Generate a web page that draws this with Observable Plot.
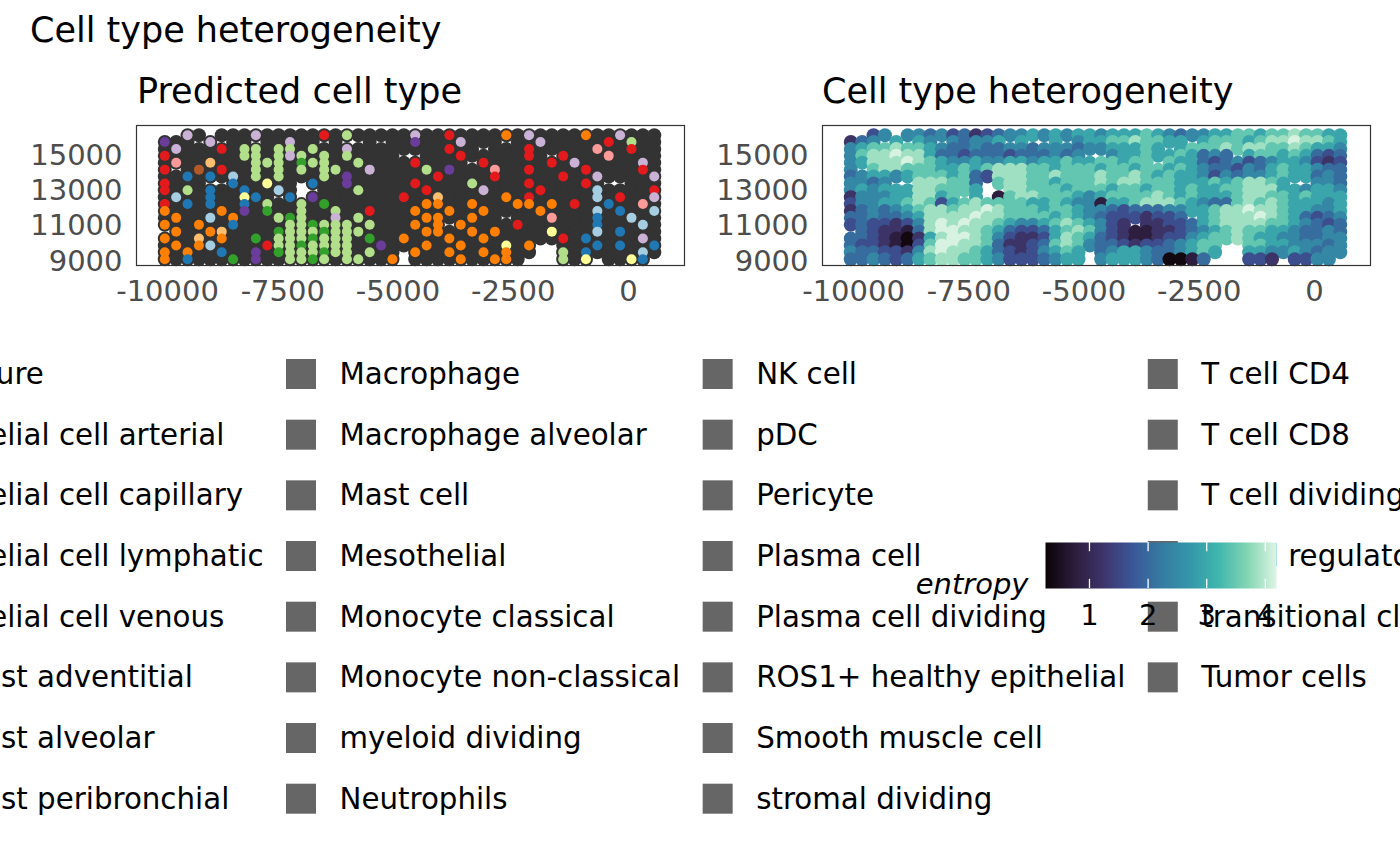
<!DOCTYPE html>
<html>
<head>
<meta charset="utf-8">
<script src="https://cdn.jsdelivr.net/npm/d3@7"></script>
<script src="https://cdn.jsdelivr.net/npm/@observablehq/plot@0.6"></script>
<style>
html, body { margin: 0; padding: 0; background: #ffffff; }
#root { position: relative; width: 1400px; height: 865px; overflow: hidden; font-family: "DejaVu Sans", sans-serif; background: #ffffff; }
#root svg { position: absolute; }
</style>
</head>
<body>
<div id="root"></div>
<script>
// ---------------- data ----------------
// grid of spot centres (data coordinates)
const xs = [-10060, -9813, -9566, -9319, -9072, -8825, -8578, -8331, -8084, -7837, -7590,
            -7343, -7096, -6849, -6602, -6355, -6108, -5861, -5614, -5367, -5120, -4873,
            -4626, -4379, -4132, -3885, -3638, -3391, -3144, -2897, -2650, -2403, -2156,
            -1909, -1662, -1415, -1168, -921, -674, -427, -180, 67, 314, 561];
const ys = [16150, 15760, 15370, 14980, 14590, 14200, 13810, 13420, 13030, 12640,
            12250, 11860, 11470, 11080, 10690, 10300, 9910, 9520, 9130];

// entropy level per spot (digit = index into entropyLevels, blank = no spot)
const entropyLevels = [0.35, 0.77, 1.19, 1.61, 2.03, 2.45, 2.95, 3.45, 3.85, 4.15];
const entropyRows = [
  "  35| 554|5342|3455|6565|6656|6676|5455|6677|6778|7766",
  "245 |6 65| 545|56 6|  6 |5667|7877|66 6|7776|7889|8876",
  "5677|8776|5445|4455|4555|4556|6676| 677|7878|8778|7665",
  "5788|9886|4434|4434|4454|5  5|6676|6764|54 6|7767|6434",
  "5688|8987|6556|5566|5667|6677|677 |7664|3453|4566|5323",
  "5 78|8777|6676|7888|7767|7767|7677|6765|4435|4676|6544",
  "4566|5677|7674|3888|7787|7787|7876|7665|3545|5676|6454",
  "5545|  88|8774| 788|7767|7787|8877|7666|7678|876 | 554",
  "5656|6688|7776|  88|7776|7776|7767|7676|6778|8866|5665",
  "2555|6688|67 6| 178|8777|6567|7778|7676|6678|8776|7666",
  "3556|6787|3678|7777|6676|5516|6788|8765|4478|7876|6656",
  "2454|5678|8788|9877|7677|6554|3444|5566|7889|8876|6556",
  "4454|4568|8889|8877|7767|6543|3323|34 6|7888|9876|4345",
  "3433|2358|9898|8765|5678|7653|2 22|3346|7888|8776|5434",
  " 432|2148|9988|7643|3467|8753|2112|2345|6787|7665|4454",
  "4432|1026|8998|7532|2368|7643|2112|3356|7787|6655|4455",
  "4332|1037|9988|7422|3478|7544|3233|4567|7  7|7665|5545",
  "5443|3258|9887|6432|3567|6 45|6654|4567|6  6|6556|5455",
  "4454|3467|8877|6533|3456|6 56|6654|0014|   3|32 3|355 "
];

// predicted cell type per spot (code letters, see typeCodes)
const typeRows = [
  "..l.|....|l...|..r.|g...|..l.|.r..|..o.|l...|.o..|l...",
  "p...|l...|...l|..k.|.r..|..p.|..l.|..r.|.l..|...r|.g..",
  ".l..|.r.g|g.gg|.g..|l...|....|.r..|....|r...|..k.|.r..",
  "r...|...g|g.gl|g.g.|g...|.l..|..r.|....|r..r|...k|....",
  ".k..|O...|ggg.|Ggg.|.g..|..r.|....|r...|..r.|l...|..l.",
  "r..w|.r..|g.g.|g.gg|..l.|...g|.p..|.k..|r...|.r..|..r.",
  "..b.|b.c.|g.g.|..g.|p...|....|r...|.r..|...r|..l.|...l",
  "r...|..b.|.y..|.b..|p...|..r.|...g|....|r...|.r..|....",
  "r.g.|b..b|..c.|....|.g..|...r|....|l...|.r..|..c.|...r",
  ".c..|b..y|b..b|.p..|....|.r..|O...|..o.|r...|..c.|r..l",
  "r.b.|b..b|.g..|g.G.|....|...o|o..o|...o|o.o.|r..b|..k.",
  "o...|.o.p|.G..|g..g|..r.|..o.|.o..|o...|.o..|..c.|b..c",
  ".o..|c.o.|..gG|g..l|.g..|...o|o..o|..g.|..k.|..b.|.c..",
  "o..o|..b.|...g|gGgg|g.g.|..o.|o.o.|...r|....|..b.|..c.",
  ".o..|oO..|..Gg|ggGg|gg..|...o|o..o|.o..|..y.|..c.|b...",
  "o..O|.o..|G.gg|gGgg|g.G.|.o..|.o..|o...|...r|.b..|..l.",
  ".o.o|c...|.rgg|Gggg|g..p|...o|..o.|..y.|o...|..b.|b..b",
  "o.o.|.b..|p.Gg|ggGg|g.g.|..o.|.o..|o.o.|...g|.b..|..c.",
  "o.b.|..G.|p..g|gGg.|gg..|o...|..o.|.oo.|...g|.y..|.yb."
];
const typeCodes = {
  ".": "Tumor cells", "g": "ROS1+ healthy epithelial", "G": "Fibroblast alveolar",
  "o": "Macrophage alveolar", "O": "Macrophage", "r": "T cell CD4", "k": "Plasma cell",
  "p": "Monocyte classical", "l": "T cell CD8", "b": "Endothelial cell capillary",
  "c": "Endothelial cell venous", "y": "Mast cell", "w": "Neutrophils"
};

// axes
const xTicks = [-10000, -7500, -5000, -2500, 0];
const yTicks = [9000, 11000, 13000, 15000];
const xDomain = [-10674, 1217];
const yDomain = [8774, 16698];
const entropyDomain = [0.25, 4.19];
const colorbarTicks = [1, 2, 3, 4];

// legend labels (column-major, 8 per column)
const legendLabels = [
  "DC mature", "Endothelial cell arterial", "Endothelial cell capillary", "Endothelial cell lymphatic",
  "Endothelial cell venous", "Fibroblast adventitial", "Fibroblast alveolar", "Fibroblast peribronchial",
  "Macrophage", "Macrophage alveolar", "Mast cell", "Mesothelial",
  "Monocyte classical", "Monocyte non-classical", "myeloid dividing", "Neutrophils",
  "NK cell", "pDC", "Pericyte", "Plasma cell",
  "Plasma cell dividing", "ROS1+ healthy epithelial", "Smooth muscle cell", "stromal dividing",
  "T cell CD4", "T cell CD8", "T cell dividing", "T cell regulatory",
  "transitional club/AT2", "Tumor cells"
];

// ---------------- styles ----------------
const typeColorMap = {
  "Tumor cells": "#333333", "ROS1+ healthy epithelial": "#B2DF8A", "Fibroblast alveolar": "#33A02C",
  "Macrophage alveolar": "#FF7F00", "Macrophage": "#FDBF6F", "T cell CD4": "#E31A1C",
  "Plasma cell": "#FB9A99", "Monocyte classical": "#6A3D9A", "T cell CD8": "#CAB2D6",
  "Endothelial cell capillary": "#1F78B4", "Endothelial cell venous": "#A6CEE3",
  "Mast cell": "#FFFF99", "Neutrophils": "#B15928"
};
const makoStops = ["#0B0405", "#2C1D3C", "#3E356B", "#3B5698", "#357BA2", "#3497A9", "#40B7AD", "#84D6B3", "#DEF5E5"];
const FONT = "'DejaVu Sans', sans-serif";
const LEG_SIZE = 29.3;

// ---------------- build spots ----------------
const cells = [];
entropyRows.forEach((row, j) => {
  const er = row.replace(/\|/g, "");
  const tr = typeRows[j].replace(/\|/g, "");
  for (let i = 0; i < xs.length; i++) {
    const ch = er[i];
    if (ch === undefined || ch === " ") continue;
    cells.push({x: xs[i], y: ys[j], entropy: entropyLevels[+ch], type: typeCodes[tr[i]] || "Tumor cells"});
  }
});
const typeDomain = Object.keys(typeColorMap);
const typeRange = typeDomain.map(k => typeColorMap[k]);
const makoInterp = d3.piecewise(d3.interpolateRgb, makoStops);

const root = document.getElementById("root");
function place(el, left, top) { el.style.left = left + "px"; el.style.top = top + "px"; root.appendChild(el); return el; }

function panel(marks, color, ml, mr) {
  return Plot.plot({
    width: 700, height: 200, marginTop: 15, marginBottom: 45, marginLeft: ml, marginRight: mr,
    x: {domain: xDomain, ticks: xTicks, tickFormat: d => String(d), tickSize: 0, tickPadding: 15, label: null},
    y: {domain: yDomain, ticks: yTicks, tickFormat: d => String(d), tickSize: 0, tickPadding: 14, label: null},
    color,
    style: {background: "transparent", fontFamily: FONT, fontSize: "29px", color: "#4D4D4D", overflow: "visible", maxWidth: "none"},
    marks: [...marks, Plot.frame({stroke: "#333333", strokeWidth: 1.2})]
  });
}

// panel 1 : predicted cell type
const p1 = panel([
  Plot.dot(cells, {x: "x", y: "y", r: 7, fill: "#333333"}),
  Plot.dot(cells.filter(d => d.type !== "Tumor cells"), {x: "x", y: "y", r: 5, fill: "type"})
], {domain: typeDomain, range: typeRange}, 136, 16);
place(p1, 0, 110);

// panel 2 : entropy
const p2 = panel([
  Plot.dot(cells, {x: "x", y: "y", r: 7, fill: "entropy"})
], {type: "linear", domain: entropyDomain, interpolate: makoInterp}, 122, 30);
place(p2, 700, 110);

// legend (keys + labels)
const ctx = document.createElement("canvas").getContext("2d");
ctx.font = LEG_SIZE + "px 'DejaVu Sans'";
const colW = [];
legendLabels.forEach((s, k) => { const c = Math.floor(k / 8); colW[c] = Math.max(colW[c] || 0, ctx.measureText(s).width); });
const keyLeft = [];
keyLeft[1] = 286;
keyLeft[0] = keyLeft[1] - 23 - colW[0] - 53;
keyLeft[2] = keyLeft[1] + 53 + colW[1] + 23;
keyLeft[3] = keyLeft[2] + 53 + colW[2] + 23;
const rowY = r => 374 + 60.67 * r;
const items = legendLabels.map((label, k) => ({label, c: Math.floor(k / 8), r: k % 8}));
const leg = Plot.plot({
  width: 1400, height: 865, margin: 0,
  x: {type: "identity", axis: null}, y: {type: "identity", axis: null},
  style: {background: "transparent", fontFamily: FONT, overflow: "visible", maxWidth: "none"},
  marks: [
    Plot.rect(items, {x1: d => keyLeft[d.c], x2: d => keyLeft[d.c] + 30, y1: d => rowY(d.r) - 15, y2: d => rowY(d.r) + 15, fill: "#666666"}),
    Plot.text(items, {x: d => keyLeft[d.c] + 53, y: d => rowY(d.r), text: "label", textAnchor: "start", fontSize: LEG_SIZE, fill: "#000000"})
  ]
});
place(leg, 0, 0);

// colour bar
const cb = Plot.plot({
  width: 400, height: 120, marginLeft: 145, marginRight: 24, marginTop: 22, marginBottom: 52,
  x: {domain: entropyDomain, axis: null}, y: {domain: [0, 1], axis: null},
  color: {type: "linear", domain: entropyDomain, interpolate: makoInterp},
  style: {background: "transparent", fontFamily: FONT, overflow: "visible", maxWidth: "none"},
  marks: [
    Plot.raster({x1: entropyDomain[0], x2: entropyDomain[1], y1: 0, y2: 1, fill: (x, y) => x}),
    Plot.ruleX(colorbarTicks, {y1: 0, y2: 0.2, stroke: "white", strokeWidth: 1.3}),
    Plot.ruleX(colorbarTicks, {y1: 0.8, y2: 1, stroke: "white", strokeWidth: 1.3}),
    Plot.text(colorbarTicks, {x: d => d, y: -0.587, text: d => String(d), fontSize: 29, fill: "#000000"}),
    Plot.text(["entropy"], {x: entropyDomain[0], y: 0.072, dx: -17, text: d => d, textAnchor: "end", fontSize: 29, fontStyle: "italic", fill: "#000000"})
  ]
});
place(cb, 900, 520);

// titles
const ns = "http://www.w3.org/2000/svg";
const tsvg = document.createElementNS(ns, "svg");
tsvg.setAttribute("width", 1400); tsvg.setAttribute("height", 120);
tsvg.style.left = "0px"; tsvg.style.top = "0px";
[["Cell type heterogeneity", 30, 42], ["Predicted cell type", 137, 103], ["Cell type heterogeneity", 822, 103]].forEach(([t, x, y]) => {
  const el = document.createElementNS(ns, "text");
  el.setAttribute("x", x); el.setAttribute("y", y);
  el.setAttribute("font-family", "DejaVu Sans, sans-serif");
  el.setAttribute("font-size", 35); el.setAttribute("fill", "#000000");
  el.textContent = t; tsvg.appendChild(el);
});
root.appendChild(tsvg);
</script>
</body>
</html>
